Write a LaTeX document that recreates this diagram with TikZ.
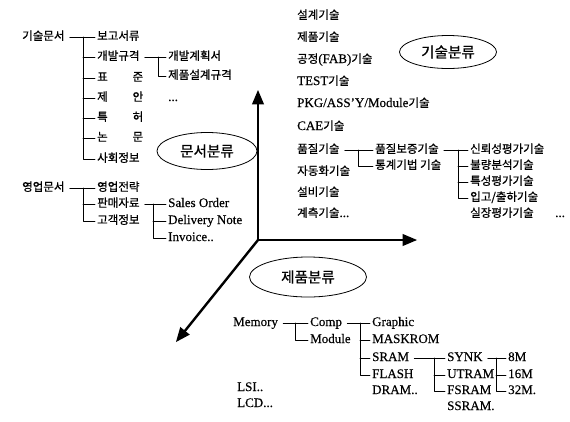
\documentclass[tikz,border=0pt]{standalone}
\usepackage{fontspec}
\setmainfont{Liberation Serif}[FakeBold=0.4]
\newfontfamily\kr[Scale=0.885,FakeBold=0.8]{Noto Sans CJK KR}
\usetikzlibrary{arrows,shapes.geometric}

\begin{document}
\begin{tikzpicture}[line cap=round,line join=round,>=triangle 45,x=1pt,y=-1pt,
    leaf/.style={anchor=west,inner sep=2pt,text height=9pt,text depth=3pt,font=\fontsize{13}{15}\selectfont},
    ko/.style={leaf,font=\fontsize{13}{15}\selectfont\kr},
    catbox/.style={ellipse,draw,line width=0.8pt,inner sep=0pt,font=\fontsize{16.5}{19}\selectfont\kr},
    axis/.style={line width=2.4pt,->},
    tree/.style={line width=0.7pt,shorten <=3pt}]
      \useasboundingbox (0,0) rectangle (570,421);

      % axes
      \coordinate (o) at (258,240);
      \coordinate (ax1) at (258,90);
      \coordinate (ax2) at (417,240);
      \coordinate (ax3) at (176,342);
      \draw[axis] (o) -- (ax1);
      \draw[axis] (o) -- (ax2);
      \draw[axis] (o) -- (ax3);

      \node[catbox,minimum width=97pt,minimum height=33pt] (cg) at (448,52) {기술분류};
      \node[catbox,minimum width=100pt,minimum height=37pt] (cd) at (207,151) {문서분류};
      \node[catbox,minimum width=117pt,minimum height=40pt] (cp) at (308,277) {제품분류};

      % documents
      \node[ko] (gd) at (20,37) {기술문서};
      \node[ko] (gd1) at (95,37) {보고서류};
      \node[ko] (gd2) at (95,57) {개발규격};
      \node[ko] (gd3) at (95,78) {\makebox[46pt][s]{표 준}};
      \node[ko] (gd4) at (95,98) {\makebox[46pt][s]{제 안}};
      \node[ko] (gd5) at (95,118) {\makebox[46pt][s]{특 허}};
      \node[ko] (gd6) at (95,138) {\makebox[46pt][s]{논 문}};
      \node[ko] (gd7) at (95,159) {사회정보};
      \coordinate (gt) at (83,37);
      \draw[tree] (gd.east) -- (gd1.west);
      \draw[tree,shorten <=0pt] (gt) |- (gd7.west);
      \foreach \n in {gd2,gd3,gd4,gd5,gd6}{
        \draw[tree,shorten <=0pt] (gt |- \n.west) -- (\n.west);
      }

      \node[ko] (gp1) at (166,57) {개발계획서};
      \node[ko] (gp2) at (166,76) {제품설계규격};
      \node[leaf] (gdots) at (166,98) {...};
      \coordinate (gpt) at (158,57);
      \draw[tree] (gd2.east) -- (gp1.west);
      \draw[tree,shorten <=0pt] (gpt) |- (gp2.west);

      \node[ko] (yd) at (20,188) {영업문서};
      \node[ko] (yd1) at (95,188) {영업전략};
      \node[ko] (yd2) at (95,204) {판매자료};
      \node[ko] (yd3) at (95,221) {고객정보};
      \coordinate (yt) at (83,188);
      \draw[tree] (yd.east) -- (yd1.west);
      \draw[tree,shorten <=0pt] (yt) |- (yd3.west);
      \draw[tree,shorten <=0pt] (yt |- yd2.west) -- (yd2.west);

      \node[leaf] (ys1) at (166,204) {Sales Order};
      \node[leaf] (ys2) at (166,221) {Delivery Note};
      \node[leaf] (ys3) at (166,238) {Invoice..};
      \coordinate (yst) at (153,204);
      \draw[tree] (yd2.east) -- (ys1.west);
      \draw[tree,shorten <=0pt] (yst) |- (ys3.west);
      \draw[tree,shorten <=0pt] (yst |- ys2.west) -- (ys2.west);

      % technology
      \node[ko] (g1) at (295,16) {설계기술};
      \node[ko] (g2) at (295,38) {제품기술};
      \node[leaf] (g3) at (295,60) {{\kr 공정}(FAB){\kr 기술}};
      \node[leaf] (g4) at (295,82) {TEST{\kr 기술}};
      \node[leaf] (g5) at (295,104) {PKG/ASS'Y/Module{\kr 기술}};
      \node[leaf] (g6) at (295,127) {CAE{\kr 기술}};
      \node[ko] (g7) at (295,150) {품질기술};
      \node[ko] (g8) at (295,172) {자동화기술};
      \node[ko] (g9) at (295,193) {설비기술};
      \node[leaf] (g10) at (295,214) {{\kr 계측기술}...};

      \node[ko] (q1) at (373,150) {품질보증기술};
      \node[ko] (q2) at (373,166) {통계기법 기술};
      \coordinate (qt) at (358,150);
      \draw[tree] (g7.east) -- (q1.west);
      \draw[tree,shorten <=0pt] (qt) |- (q2.west);

      \node[ko] (r1) at (468,150) {신뢰성평가기술};
      \node[ko] (r2) at (468,166) {불량분석기술};
      \node[ko] (r3) at (468,182) {특성평가기술};
      \node[ko] (r4) at (468,198) {입고/출하기술};
      \node[ko] (r5) at (468,214) {실장평가기술};
      \node[leaf] (rdots) at (553,214) {...};
      \coordinate (rt) at (458,150);
      \draw[tree] (q1.east) -- (r1.west);
      \draw[tree,shorten <=0pt] (rt) |- (r4.west);
      \foreach \n in {r2,r3}{
        \draw[tree,shorten <=0pt] (rt |- \n.west) -- (\n.west);
      }

      % products
      \node[leaf] (m0) at (231,323) {Memory};
      \node[leaf] (m1) at (308,323) {Comp};
      \node[leaf] (m2) at (308,340) {Module};
      \coordinate (mt) at (295,323);
      \draw[tree] (m0.east) -- (m1.west);
      \draw[tree,shorten <=0pt] (mt) |- (m2.west);

      \node[leaf] (c1) at (370,323) {Graphic};
      \node[leaf] (c2) at (370,340) {MASKROM};
      \node[leaf] (c3) at (370,358) {SRAM};
      \node[leaf] (c4) at (370,375) {FLASH};
      \node[leaf] (c5) at (370,391) {DRAM..};
      \coordinate (ct) at (360,323);
      \draw[tree] (m1.east) -- (c1.west);
      \draw[tree,shorten <=0pt] (ct) |- (c4.west);
      \foreach \n in {c2,c3}{
        \draw[tree,shorten <=0pt] (ct |- \n.west) -- (\n.west);
      }

      \node[leaf] (s1) at (445,358) {SYNK};
      \node[leaf] (s2) at (445,375) {UTRAM};
      \node[leaf] (s3) at (445,391) {FSRAM};
      \node[leaf] (s4) at (445,407) {SSRAM.};
      \coordinate (st) at (434,358);
      \draw[tree] (c3.east) -- (s1.west);
      \draw[tree,shorten <=0pt] (st) |- (s3.west);
      \draw[tree,shorten <=0pt] (st |- s2.west) -- (s2.west);

      \node[leaf] (k1) at (506,358) {8M};
      \node[leaf] (k2) at (506,375) {16M};
      \node[leaf] (k3) at (506,391) {32M.};
      \coordinate (kt) at (496,358);
      \draw[tree] (s1.east) -- (k1.west);
      \draw[tree,shorten <=0pt] (kt) |- (k3.west);
      \draw[tree,shorten <=0pt] (kt |- k2.west) -- (k2.west);

      \node[leaf] (l1) at (235,388) {LSI..};
      \node[leaf] (l2) at (235,404) {LCD...};
    \end{tikzpicture}
\end{document}
